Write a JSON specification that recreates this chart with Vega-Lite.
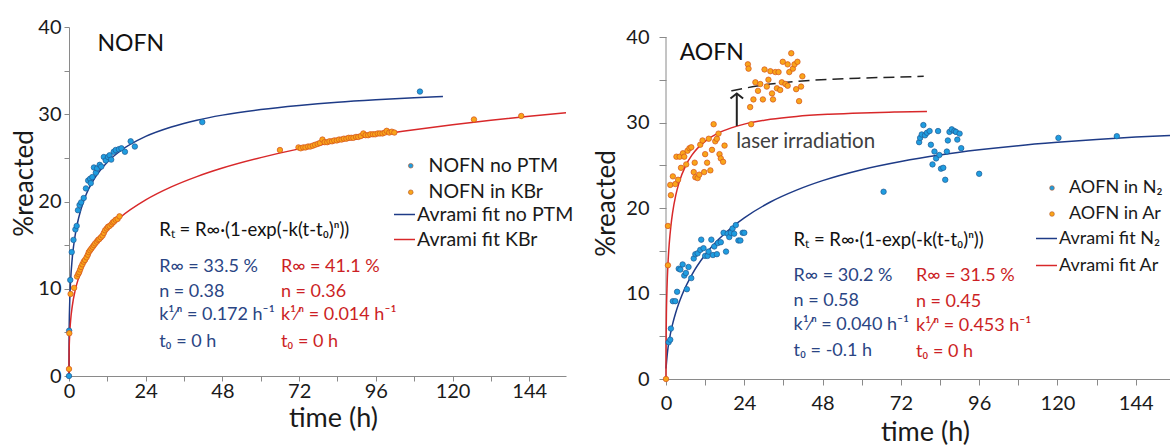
{
  "$schema": "https://vega.github.io/schema/vega-lite/v6.json",
  "padding": {"left": 11, "top": 17, "right": 0, "bottom": 0},
  "spacing": 19,
  "config": {
    "font": "Lato",
    "view": {"stroke": null},
    "axis": {"domainColor": "#8a8a8a", "tickColor": "#8a8a8a", "labelFont": "Lato", "labelFontSize": 20, "labelColor": "#1a1a1a", "titleFont": "Lato", "titleFontSize": 26, "titleFontWeight": "normal", "titleColor": "#1a1a1a", "grid": false, "labelFlush": false, "labelOverlap": false},
    "legend": {"title": null, "orient": "none", "labelFont": "Lato", "labelFontSize": 19.5, "labelColor": "#1a1a1a", "labelLimit": 300}
  },
  "resolve": {"scale": {"fill": "independent", "stroke": "independent", "x": "independent", "y": "independent"}, "legend": {"fill": "independent", "stroke": "independent"}},
  "datasets": {
    "ptsL": [
      {"t": 0, "r": 0, "s": "NOFN no PTM"}, {"t": 0.05, "r": 5.2, "s": "NOFN no PTM"}, {"t": 0.4, "r": 11.0, "s": "NOFN no PTM"}, {"t": 0.85, "r": 14.2, "s": "NOFN no PTM"}, {"t": 1.4, "r": 15.6, "s": "NOFN no PTM"}, {"t": 2.0, "r": 16.8, "s": "NOFN no PTM"}, {"t": 2.4, "r": 17.2, "s": "NOFN no PTM"}, {"t": 2.8, "r": 19.0, "s": "NOFN no PTM"}, {"t": 3.3, "r": 19.6, "s": "NOFN no PTM"}, {"t": 3.8, "r": 19.9, "s": "NOFN no PTM"}, {"t": 4.6, "r": 20.4, "s": "NOFN no PTM"}, {"t": 5.3, "r": 21.5, "s": "NOFN no PTM"}, {"t": 6.0, "r": 22.4, "s": "NOFN no PTM"}, {"t": 6.6, "r": 22.6, "s": "NOFN no PTM"}, {"t": 6.8, "r": 22.1, "s": "NOFN no PTM"}, {"t": 7.3, "r": 22.8, "s": "NOFN no PTM"}, {"t": 7.8, "r": 23.9, "s": "NOFN no PTM"}, {"t": 8.4, "r": 23.3, "s": "NOFN no PTM"}, {"t": 8.8, "r": 23.8, "s": "NOFN no PTM"}, {"t": 9.6, "r": 24.2, "s": "NOFN no PTM"}, {"t": 10.1, "r": 24.0, "s": "NOFN no PTM"}, {"t": 10.9, "r": 25.1, "s": "NOFN no PTM"}, {"t": 11.5, "r": 24.7, "s": "NOFN no PTM"}, {"t": 12.2, "r": 25.1, "s": "NOFN no PTM"}, {"t": 12.7, "r": 25.3, "s": "NOFN no PTM"}, {"t": 13.2, "r": 24.8, "s": "NOFN no PTM"}, {"t": 14.0, "r": 25.7, "s": "NOFN no PTM"}, {"t": 14.6, "r": 25.9, "s": "NOFN no PTM"}, {"t": 15.6, "r": 26.0, "s": "NOFN no PTM"}, {"t": 16.4, "r": 26.1, "s": "NOFN no PTM"}, {"t": 17.5, "r": 25.7, "s": "NOFN no PTM"}, {"t": 19.3, "r": 26.9, "s": "NOFN no PTM"}, {"t": 20.6, "r": 26.3, "s": "NOFN no PTM"}, {"t": 41.7, "r": 29.1, "s": "NOFN no PTM"}, {"t": 109.8, "r": 32.6, "s": "NOFN no PTM"},
      {"t": 0, "r": 0.8, "s": "NOFN in KBr"}, {"t": 0.1, "r": 4.9, "s": "NOFN in KBr"}, {"t": 0.5, "r": 9.4, "s": "NOFN in KBr"}, {"t": 1.6, "r": 10.1, "s": "NOFN in KBr"}, {"t": 2.5, "r": 11.4, "s": "NOFN in KBr"}, {"t": 2.9, "r": 11.7, "s": "NOFN in KBr"}, {"t": 3.2, "r": 11.9, "s": "NOFN in KBr"}, {"t": 3.5, "r": 12.2, "s": "NOFN in KBr"}, {"t": 3.8, "r": 12.5, "s": "NOFN in KBr"}, {"t": 4.2, "r": 12.8, "s": "NOFN in KBr"}, {"t": 4.6, "r": 13.1, "s": "NOFN in KBr"}, {"t": 5.0, "r": 13.3, "s": "NOFN in KBr"}, {"t": 5.5, "r": 13.6, "s": "NOFN in KBr"}, {"t": 5.9, "r": 13.9, "s": "NOFN in KBr"}, {"t": 6.2, "r": 14.2, "s": "NOFN in KBr"}, {"t": 6.6, "r": 14.4, "s": "NOFN in KBr"}, {"t": 7.0, "r": 14.6, "s": "NOFN in KBr"}, {"t": 7.4, "r": 14.8, "s": "NOFN in KBr"}, {"t": 7.8, "r": 15.0, "s": "NOFN in KBr"}, {"t": 8.2, "r": 15.2, "s": "NOFN in KBr"}, {"t": 8.7, "r": 15.4, "s": "NOFN in KBr"}, {"t": 9.1, "r": 15.6, "s": "NOFN in KBr"}, {"t": 9.5, "r": 15.7, "s": "NOFN in KBr"}, {"t": 10.0, "r": 15.9, "s": "NOFN in KBr"}, {"t": 10.5, "r": 16.1, "s": "NOFN in KBr"}, {"t": 10.9, "r": 16.4, "s": "NOFN in KBr"}, {"t": 11.3, "r": 16.7, "s": "NOFN in KBr"}, {"t": 11.8, "r": 16.9, "s": "NOFN in KBr"}, {"t": 12.2, "r": 17.1, "s": "NOFN in KBr"}, {"t": 12.7, "r": 17.2, "s": "NOFN in KBr"}, {"t": 13.3, "r": 17.4, "s": "NOFN in KBr"}, {"t": 13.7, "r": 17.6, "s": "NOFN in KBr"}, {"t": 14.1, "r": 17.7, "s": "NOFN in KBr"}, {"t": 14.6, "r": 17.9, "s": "NOFN in KBr"}, {"t": 15.2, "r": 18.0, "s": "NOFN in KBr"}, {"t": 15.8, "r": 18.3, "s": "NOFN in KBr"},
      {"t": 66.0, "r": 25.9, "s": "NOFN in KBr"}, {"t": 71.8, "r": 26.2, "s": "NOFN in KBr"}, {"t": 72.5, "r": 26.1, "s": "NOFN in KBr"}, {"t": 73.3, "r": 26.2, "s": "NOFN in KBr"}, {"t": 74.0, "r": 26.2, "s": "NOFN in KBr"}, {"t": 74.8, "r": 26.3, "s": "NOFN in KBr"}, {"t": 75.5, "r": 26.3, "s": "NOFN in KBr"}, {"t": 76.3, "r": 26.4, "s": "NOFN in KBr"}, {"t": 77.0, "r": 26.5, "s": "NOFN in KBr"}, {"t": 77.8, "r": 26.6, "s": "NOFN in KBr"}, {"t": 78.5, "r": 26.7, "s": "NOFN in KBr"}, {"t": 79.3, "r": 27.1, "s": "NOFN in KBr"}, {"t": 80.0, "r": 26.8, "s": "NOFN in KBr"}, {"t": 80.8, "r": 26.8, "s": "NOFN in KBr"}, {"t": 81.5, "r": 26.9, "s": "NOFN in KBr"}, {"t": 82.3, "r": 26.9, "s": "NOFN in KBr"}, {"t": 83.0, "r": 27.0, "s": "NOFN in KBr"}, {"t": 83.8, "r": 27.0, "s": "NOFN in KBr"}, {"t": 84.5, "r": 27.1, "s": "NOFN in KBr"}, {"t": 85.3, "r": 27.1, "s": "NOFN in KBr"}, {"t": 86.0, "r": 27.2, "s": "NOFN in KBr"}, {"t": 86.8, "r": 27.2, "s": "NOFN in KBr"}, {"t": 87.5, "r": 27.3, "s": "NOFN in KBr"}, {"t": 88.3, "r": 27.3, "s": "NOFN in KBr"}, {"t": 89.0, "r": 27.3, "s": "NOFN in KBr"}, {"t": 89.8, "r": 27.4, "s": "NOFN in KBr"}, {"t": 90.5, "r": 27.4, "s": "NOFN in KBr"}, {"t": 91.3, "r": 27.5, "s": "NOFN in KBr"}, {"t": 92.1, "r": 27.8, "s": "NOFN in KBr"}, {"t": 92.8, "r": 27.6, "s": "NOFN in KBr"}, {"t": 93.6, "r": 27.6, "s": "NOFN in KBr"}, {"t": 94.3, "r": 27.7, "s": "NOFN in KBr"}, {"t": 95.1, "r": 27.7, "s": "NOFN in KBr"}, {"t": 95.8, "r": 27.7, "s": "NOFN in KBr"}, {"t": 96.6, "r": 27.8, "s": "NOFN in KBr"}, {"t": 97.3, "r": 27.8, "s": "NOFN in KBr"}, {"t": 98.1, "r": 27.8, "s": "NOFN in KBr"}, {"t": 98.8, "r": 27.9, "s": "NOFN in KBr"}, {"t": 99.4, "r": 28.1, "s": "NOFN in KBr"}, {"t": 100.2, "r": 27.9, "s": "NOFN in KBr"}, {"t": 101.0, "r": 28.0, "s": "NOFN in KBr"}, {"t": 101.8, "r": 27.9, "s": "NOFN in KBr"}, {"t": 126.7, "r": 29.4, "s": "NOFN in KBr"}, {"t": 141.5, "r": 29.8, "s": "NOFN in KBr"}
    ],
    "fitL": [
      {"t": 0, "r": 0, "s": "Avrami fit no PTM"}, {"t": 0.01, "r": 2.85, "s": "Avrami fit no PTM"}, {"t": 0.05, "r": 5.07, "s": "Avrami fit no PTM"}, {"t": 0.2, "r": 8.12, "s": "Avrami fit no PTM"}, {"t": 0.5, "r": 10.89, "s": "Avrami fit no PTM"}, {"t": 1, "r": 13.42, "s": "Avrami fit no PTM"}, {"t": 2, "r": 16.29, "s": "Avrami fit no PTM"}, {"t": 3, "r": 18.10, "s": "Avrami fit no PTM"}, {"t": 5, "r": 20.47, "s": "Avrami fit no PTM"}, {"t": 8, "r": 22.66, "s": "Avrami fit no PTM"}, {"t": 12, "r": 24.52, "s": "Avrami fit no PTM"}, {"t": 16, "r": 25.78, "s": "Avrami fit no PTM"}, {"t": 24, "r": 27.46, "s": "Avrami fit no PTM"}, {"t": 32, "r": 28.54, "s": "Avrami fit no PTM"}, {"t": 40, "r": 29.32, "s": "Avrami fit no PTM"}, {"t": 48, "r": 29.90, "s": "Avrami fit no PTM"}, {"t": 60, "r": 30.54, "s": "Avrami fit no PTM"}, {"t": 72, "r": 31.01, "s": "Avrami fit no PTM"}, {"t": 84, "r": 31.38, "s": "Avrami fit no PTM"}, {"t": 96, "r": 31.66, "s": "Avrami fit no PTM"}, {"t": 108, "r": 31.89, "s": "Avrami fit no PTM"}, {"t": 117, "r": 32.03, "s": "Avrami fit no PTM"},
      {"t": 0, "r": 0, "s": "Avrami fit KBr"}, {"t": 0.01, "r": 1.65, "s": "Avrami fit KBr"}, {"t": 0.05, "r": 2.90, "s": "Avrami fit KBr"}, {"t": 0.2, "r": 4.67, "s": "Avrami fit KBr"}, {"t": 0.5, "r": 6.34, "s": "Avrami fit KBr"}, {"t": 1, "r": 7.95, "s": "Avrami fit KBr"}, {"t": 2, "r": 9.92, "s": "Avrami fit KBr"}, {"t": 3, "r": 11.24, "s": "Avrami fit KBr"}, {"t": 5, "r": 13.11, "s": "Avrami fit KBr"}, {"t": 8, "r": 15.02, "s": "Avrami fit KBr"}, {"t": 12, "r": 16.81, "s": "Avrami fit KBr"}, {"t": 16, "r": 18.17, "s": "Avrami fit KBr"}, {"t": 24, "r": 20.18, "s": "Avrami fit KBr"}, {"t": 32, "r": 21.67, "s": "Avrami fit KBr"}, {"t": 40, "r": 22.85, "s": "Avrami fit KBr"}, {"t": 48, "r": 23.83, "s": "Avrami fit KBr"}, {"t": 60, "r": 25.03, "s": "Avrami fit KBr"}, {"t": 72, "r": 26.03, "s": "Avrami fit KBr"}, {"t": 84, "r": 26.86, "s": "Avrami fit KBr"}, {"t": 96, "r": 27.59, "s": "Avrami fit KBr"}, {"t": 108, "r": 28.22, "s": "Avrami fit KBr"}, {"t": 120, "r": 28.79, "s": "Avrami fit KBr"}, {"t": 132, "r": 29.30, "s": "Avrami fit KBr"}, {"t": 144, "r": 29.76, "s": "Avrami fit KBr"}, {"t": 155.5, "r": 30.17, "s": "Avrami fit KBr"}
    ],
    "annL": [
      {"t": 8.9, "r": 38.1, "label": "NOFN", "k": "title"},
      {"t": 28.2, "r": 16.7, "label": "Rₜ = R∞·(1-exp(-k(t-t₀)ⁿ))", "k": "eq"},
      {"t": 28.2, "r": 12.5, "label": "R∞ = 33.5 %", "k": "blue"},
      {"t": 28.2, "r": 9.6, "label": "n = 0.38", "k": "blue"},
      {"t": 28.2, "r": 7.0, "label": "k¹⁄ⁿ = 0.172 h⁻¹", "k": "blue"},
      {"t": 28.2, "r": 3.9, "label": "t₀ = 0 h", "k": "blue"},
      {"t": 66.3, "r": 12.5, "label": "R∞ = 41.1 %", "k": "red"},
      {"t": 66.3, "r": 9.6, "label": "n = 0.36", "k": "red"},
      {"t": 66.3, "r": 7.0, "label": "k¹⁄ⁿ = 0.014 h⁻¹", "k": "red"},
      {"t": 66.3, "r": 3.9, "label": "t₀ = 0 h", "k": "red"}
    ],
    "ptsR": [
      {"t": 0.8, "r": 4.3, "s": "AOFN in N₂"}, {"t": 1.3, "r": 4.6, "s": "AOFN in N₂"}, {"t": 1.5, "r": 5.9, "s": "AOFN in N₂"}, {"t": 2.1, "r": 9.1, "s": "AOFN in N₂"}, {"t": 2.85, "r": 9.1, "s": "AOFN in N₂"}, {"t": 3.4, "r": 10.2, "s": "AOFN in N₂"}, {"t": 3.9, "r": 12.9, "s": "AOFN in N₂"}, {"t": 4.4, "r": 12.8, "s": "AOFN in N₂"}, {"t": 5.1, "r": 13.4, "s": "AOFN in N₂"}, {"t": 5.6, "r": 12.1, "s": "AOFN in N₂"}, {"t": 6.1, "r": 12.4, "s": "AOFN in N₂"}, {"t": 6.4, "r": 10.5, "s": "AOFN in N₂"}, {"t": 6.9, "r": 13.1, "s": "AOFN in N₂"}, {"t": 7.75, "r": 11.8, "s": "AOFN in N₂"}, {"t": 8.5, "r": 14.1, "s": "AOFN in N₂"}, {"t": 9.0, "r": 14.6, "s": "AOFN in N₂"}, {"t": 9.7, "r": 14.7, "s": "AOFN in N₂"}, {"t": 10.5, "r": 15.1, "s": "AOFN in N₂"}, {"t": 10.8, "r": 16.3, "s": "AOFN in N₂"}, {"t": 11.5, "r": 15.3, "s": "AOFN in N₂"}, {"t": 12.0, "r": 14.4, "s": "AOFN in N₂"}, {"t": 12.75, "r": 14.4, "s": "AOFN in N₂"}, {"t": 13.05, "r": 14.9, "s": "AOFN in N₂"}, {"t": 13.9, "r": 16.3, "s": "AOFN in N₂"}, {"t": 14.4, "r": 14.5, "s": "AOFN in N₂"}, {"t": 14.8, "r": 15.5, "s": "AOFN in N₂"}, {"t": 15.6, "r": 14.6, "s": "AOFN in N₂"}, {"t": 15.9, "r": 15.9, "s": "AOFN in N₂"}, {"t": 16.8, "r": 16.0, "s": "AOFN in N₂"}, {"t": 17.65, "r": 17.1, "s": "AOFN in N₂"}, {"t": 18.4, "r": 14.9, "s": "AOFN in N₂"}, {"t": 18.9, "r": 17.0, "s": "AOFN in N₂"}, {"t": 19.4, "r": 16.6, "s": "AOFN in N₂"}, {"t": 19.9, "r": 17.1, "s": "AOFN in N₂"}, {"t": 20.4, "r": 17.6, "s": "AOFN in N₂"}, {"t": 20.9, "r": 17.0, "s": "AOFN in N₂"}, {"t": 21.4, "r": 18.0, "s": "AOFN in N₂"}, {"t": 22.2, "r": 16.2, "s": "AOFN in N₂"}, {"t": 22.8, "r": 16.2, "s": "AOFN in N₂"}, {"t": 23.5, "r": 17.1, "s": "AOFN in N₂"}, {"t": 24.0, "r": 17.1, "s": "AOFN in N₂"},
      {"t": 66.7, "r": 21.9, "s": "AOFN in N₂"}, {"t": 77.6, "r": 27.7, "s": "AOFN in N₂"}, {"t": 77.9, "r": 28.2, "s": "AOFN in N₂"}, {"t": 78.4, "r": 28.6, "s": "AOFN in N₂"}, {"t": 78.9, "r": 29.7, "s": "AOFN in N₂"}, {"t": 79.4, "r": 28.5, "s": "AOFN in N₂"}, {"t": 80.0, "r": 28.8, "s": "AOFN in N₂"}, {"t": 80.8, "r": 29.0, "s": "AOFN in N₂"}, {"t": 81.2, "r": 27.4, "s": "AOFN in N₂"}, {"t": 81.7, "r": 25.1, "s": "AOFN in N₂"}, {"t": 82.3, "r": 26.6, "s": "AOFN in N₂"}, {"t": 82.8, "r": 25.8, "s": "AOFN in N₂"}, {"t": 83.4, "r": 29.0, "s": "AOFN in N₂"}, {"t": 83.8, "r": 26.2, "s": "AOFN in N₂"}, {"t": 84.3, "r": 24.6, "s": "AOFN in N₂"}, {"t": 85.0, "r": 24.7, "s": "AOFN in N₂"}, {"t": 85.6, "r": 23.3, "s": "AOFN in N₂"}, {"t": 86.1, "r": 26.6, "s": "AOFN in N₂"}, {"t": 86.4, "r": 27.9, "s": "AOFN in N₂"}, {"t": 86.9, "r": 28.9, "s": "AOFN in N₂"}, {"t": 87.6, "r": 29.2, "s": "AOFN in N₂"}, {"t": 88.4, "r": 29.0, "s": "AOFN in N₂"}, {"t": 88.9, "r": 28.9, "s": "AOFN in N₂"}, {"t": 89.3, "r": 28.0, "s": "AOFN in N₂"}, {"t": 90.0, "r": 28.7, "s": "AOFN in N₂"}, {"t": 90.5, "r": 27.0, "s": "AOFN in N₂"}, {"t": 96.0, "r": 24.0, "s": "AOFN in N₂"}, {"t": 120.3, "r": 28.2, "s": "AOFN in N₂"}, {"t": 138.2, "r": 28.4, "s": "AOFN in N₂"},
      {"t": 0, "r": 0, "s": "AOFN in Ar"}, {"t": 0.6, "r": 17.9, "s": "AOFN in Ar"}, {"t": 0.6, "r": 13.3, "s": "AOFN in Ar"}, {"t": 1.3, "r": 22.7, "s": "AOFN in Ar"}, {"t": 1.5, "r": 21.5, "s": "AOFN in Ar"}, {"t": 2.1, "r": 23.7, "s": "AOFN in Ar"}, {"t": 2.85, "r": 22.8, "s": "AOFN in Ar"}, {"t": 3.2, "r": 26.0, "s": "AOFN in Ar"}, {"t": 3.7, "r": 23.3, "s": "AOFN in Ar"}, {"t": 4.2, "r": 26.0, "s": "AOFN in Ar"}, {"t": 4.6, "r": 24.7, "s": "AOFN in Ar"}, {"t": 5.2, "r": 26.4, "s": "AOFN in Ar"}, {"t": 5.6, "r": 26.0, "s": "AOFN in Ar"}, {"t": 6.2, "r": 25.1, "s": "AOFN in Ar"}, {"t": 6.6, "r": 26.7, "s": "AOFN in Ar"}, {"t": 7.2, "r": 27.0, "s": "AOFN in Ar"}, {"t": 7.75, "r": 27.1, "s": "AOFN in Ar"}, {"t": 8.5, "r": 24.2, "s": "AOFN in Ar"}, {"t": 8.8, "r": 25.3, "s": "AOFN in Ar"}, {"t": 9.0, "r": 23.6, "s": "AOFN in Ar"}, {"t": 9.7, "r": 23.5, "s": "AOFN in Ar"}, {"t": 10.2, "r": 23.9, "s": "AOFN in Ar"}, {"t": 10.5, "r": 27.4, "s": "AOFN in Ar"}, {"t": 11.2, "r": 27.9, "s": "AOFN in Ar"}, {"t": 11.7, "r": 24.2, "s": "AOFN in Ar"}, {"t": 12.0, "r": 26.3, "s": "AOFN in Ar"}, {"t": 12.6, "r": 25.3, "s": "AOFN in Ar"}, {"t": 13.1, "r": 28.1, "s": "AOFN in Ar"}, {"t": 13.6, "r": 24.4, "s": "AOFN in Ar"}, {"t": 14.1, "r": 26.8, "s": "AOFN in Ar"}, {"t": 14.6, "r": 29.8, "s": "AOFN in Ar"}, {"t": 15.1, "r": 27.8, "s": "AOFN in Ar"}, {"t": 15.6, "r": 28.1, "s": "AOFN in Ar"}, {"t": 16.1, "r": 28.7, "s": "AOFN in Ar"}, {"t": 16.4, "r": 26.3, "s": "AOFN in Ar"}, {"t": 16.8, "r": 25.8, "s": "AOFN in Ar"}, {"t": 17.5, "r": 25.4, "s": "AOFN in Ar"}, {"t": 17.95, "r": 27.3, "s": "AOFN in Ar"},
      {"t": 25.1, "r": 36.8, "s": "AOFN in Ar"}, {"t": 25.3, "r": 36.3, "s": "AOFN in Ar"}, {"t": 25.8, "r": 31.8, "s": "AOFN in Ar"}, {"t": 26.1, "r": 29.8, "s": "AOFN in Ar"}, {"t": 26.8, "r": 32.7, "s": "AOFN in Ar"}, {"t": 27.4, "r": 34.7, "s": "AOFN in Ar"}, {"t": 28.2, "r": 33.7, "s": "AOFN in Ar"}, {"t": 28.9, "r": 34.5, "s": "AOFN in Ar"}, {"t": 29.7, "r": 32.7, "s": "AOFN in Ar"}, {"t": 30.2, "r": 36.2, "s": "AOFN in Ar"}, {"t": 30.9, "r": 34.2, "s": "AOFN in Ar"}, {"t": 31.4, "r": 35.0, "s": "AOFN in Ar"}, {"t": 32.0, "r": 36.0, "s": "AOFN in Ar"}, {"t": 32.5, "r": 33.4, "s": "AOFN in Ar"}, {"t": 32.8, "r": 32.7, "s": "AOFN in Ar"}, {"t": 33.5, "r": 35.9, "s": "AOFN in Ar"}, {"t": 34.0, "r": 34.0, "s": "AOFN in Ar"}, {"t": 34.5, "r": 35.9, "s": "AOFN in Ar"}, {"t": 35.0, "r": 33.8, "s": "AOFN in Ar"}, {"t": 35.5, "r": 34.7, "s": "AOFN in Ar"}, {"t": 35.8, "r": 37.1, "s": "AOFN in Ar"}, {"t": 36.6, "r": 34.5, "s": "AOFN in Ar"}, {"t": 37.3, "r": 34.3, "s": "AOFN in Ar"}, {"t": 37.3, "r": 36.8, "s": "AOFN in Ar"}, {"t": 37.8, "r": 35.9, "s": "AOFN in Ar"}, {"t": 38.4, "r": 38.1, "s": "AOFN in Ar"}, {"t": 38.9, "r": 36.3, "s": "AOFN in Ar"}, {"t": 39.4, "r": 36.8, "s": "AOFN in Ar"}, {"t": 39.9, "r": 33.9, "s": "AOFN in Ar"}, {"t": 40.3, "r": 37.1, "s": "AOFN in Ar"}, {"t": 40.8, "r": 32.5, "s": "AOFN in Ar"}, {"t": 41.4, "r": 34.2, "s": "AOFN in Ar"}, {"t": 41.8, "r": 35.4, "s": "AOFN in Ar"}
    ],
    "fitR": [
      {"t": 0, "r": 1.23, "s": "Avrami fit N₂"}, {"t": 0.5, "r": 3.28, "s": "Avrami fit N₂"}, {"t": 1, "r": 4.55, "s": "Avrami fit N₂"}, {"t": 2, "r": 6.39, "s": "Avrami fit N₂"}, {"t": 3, "r": 7.78, "s": "Avrami fit N₂"}, {"t": 5, "r": 9.91, "s": "Avrami fit N₂"}, {"t": 8, "r": 12.25, "s": "Avrami fit N₂"}, {"t": 12, "r": 14.54, "s": "Avrami fit N₂"}, {"t": 16, "r": 16.28, "s": "Avrami fit N₂"}, {"t": 20, "r": 17.69, "s": "Avrami fit N₂"}, {"t": 24, "r": 18.85, "s": "Avrami fit N₂"}, {"t": 32, "r": 20.70, "s": "Avrami fit N₂"}, {"t": 40, "r": 22.09, "s": "Avrami fit N₂"}, {"t": 48, "r": 23.20, "s": "Avrami fit N₂"}, {"t": 60, "r": 24.48, "s": "Avrami fit N₂"}, {"t": 72, "r": 25.44, "s": "Avrami fit N₂"}, {"t": 84, "r": 26.20, "s": "Avrami fit N₂"}, {"t": 96, "r": 26.80, "s": "Avrami fit N₂"}, {"t": 108, "r": 27.29, "s": "Avrami fit N₂"}, {"t": 120, "r": 27.68, "s": "Avrami fit N₂"}, {"t": 132, "r": 28.02, "s": "Avrami fit N₂"}, {"t": 144, "r": 28.29, "s": "Avrami fit N₂"}, {"t": 154.5, "r": 28.49, "s": "Avrami fit N₂"},
      {"t": 0, "r": 0, "s": "Avrami fit Ar"}, {"t": 0.02, "r": 3.57, "s": "Avrami fit Ar"}, {"t": 0.1, "r": 6.93, "s": "Avrami fit Ar"}, {"t": 0.3, "r": 10.54, "s": "Avrami fit Ar"}, {"t": 0.6, "r": 13.44, "s": "Avrami fit Ar"}, {"t": 1, "r": 15.86, "s": "Avrami fit Ar"}, {"t": 1.5, "r": 17.9, "s": "Avrami fit Ar"}, {"t": 2, "r": 19.39, "s": "Avrami fit Ar"}, {"t": 3, "r": 21.5, "s": "Avrami fit Ar"}, {"t": 4, "r": 22.97, "s": "Avrami fit Ar"}, {"t": 6, "r": 24.93, "s": "Avrami fit Ar"}, {"t": 8, "r": 26.21, "s": "Avrami fit Ar"}, {"t": 12, "r": 27.8, "s": "Avrami fit Ar"}, {"t": 16, "r": 28.75, "s": "Avrami fit Ar"}, {"t": 20, "r": 29.37, "s": "Avrami fit Ar"}, {"t": 24, "r": 29.81, "s": "Avrami fit Ar"}, {"t": 32, "r": 30.37, "s": "Avrami fit Ar"}, {"t": 40, "r": 30.71, "s": "Avrami fit Ar"}, {"t": 50, "r": 30.96, "s": "Avrami fit Ar"}, {"t": 60, "r": 31.12, "s": "Avrami fit Ar"}, {"t": 70, "r": 31.22, "s": "Avrami fit Ar"}, {"t": 80, "r": 31.3, "s": "Avrami fit Ar"}
    ],
    "dashR": [
      {"t": 20, "r": 33.7}, {"t": 24, "r": 34.0}, {"t": 32, "r": 34.5}, {"t": 40, "r": 34.8}, {"t": 50, "r": 35.05}, {"t": 60, "r": 35.2}, {"t": 70, "r": 35.3}, {"t": 79, "r": 35.4}
    ],
    "arrowR": [{"t": 21.7, "r1": 29.6, "r2": 33.4}],
    "axisR": [{"t": 0, "r1": 0, "r2": 40}],
    "annR": [
      {"t": 4.2, "r": 38.1, "label": "AOFN", "k": "title"},
      {"t": 21.5, "r": 27.7, "label": "laser irradiation", "k": "grey"},
      {"t": 39.1, "r": 16.2, "label": "Rₜ = R∞·(1-exp(-k(t-t₀)ⁿ))", "k": "eq"},
      {"t": 39.1, "r": 12.0, "label": "R∞ = 30.2 %", "k": "blue"},
      {"t": 39.1, "r": 9.15, "label": "n = 0.58", "k": "blue"},
      {"t": 39.1, "r": 6.3, "label": "k¹⁄ⁿ = 0.040 h⁻¹", "k": "blue"},
      {"t": 39.1, "r": 3.3, "label": "t₀ = -0.1 h", "k": "blue"},
      {"t": 76.6, "r": 12.0, "label": "R∞ = 31.5 %", "k": "red"},
      {"t": 76.6, "r": 9.0, "label": "n = 0.45", "k": "red"},
      {"t": 76.6, "r": 6.2, "label": "k¹⁄ⁿ = 0.453 h⁻¹", "k": "red"},
      {"t": 76.6, "r": 3.2, "label": "t₀ = 0 h", "k": "red"}
    ]
  },
  "hconcat": [
    {
      "width": 497,
      "height": 349,
      "resolve": {"scale": {"stroke": "independent"}, "legend": {"stroke": "independent"}},
      "encoding": {
        "x": {"field": "t", "type": "quantitative", "scale": {"domain": [0, 155.5], "nice": false, "zero": false}, "axis": {"title": "time (h)", "titleFontSize": 27, "titleX": 264, "values": [0, 12, 24, 36, 48, 60, 72, 84, 96, 108, 120, 132, 144], "labelExpr": "datum.value % 24 == 0 ? datum.label : ''", "tickSize": 5, "labelPadding": 0, "titlePadding": 4}},
        "y": {"field": "r", "type": "quantitative", "scale": {"domain": [0, 40], "nice": false}, "axis": {"title": "%reacted", "titleY": 156, "values": [0, 5, 10, 15, 20, 25, 30, 35, 40], "labelExpr": "datum.value % 10 == 0 ? datum.label : ''", "tickSize": 5, "labelPadding": 3, "titlePadding": 0}}
      },
      "layer": [
        {
          "data": {"name": "fitL"},
          "mark": {"type": "line", "strokeWidth": 1.5, "interpolate": "monotone"},
          "encoding": {
            "stroke": {"field": "s", "type": "nominal", "sort": null, "scale": {"domain": ["Avrami fit no PTM", "Avrami fit KBr"], "range": ["#1e3b87", "#d8282a"]},
              "legend": {"legendX": 324, "legendY": 176, "symbolType": "stroke", "symbolSize": 440, "symbolStrokeWidth": 1.5, "rowPadding": 4, "labelOffset": 1}}
          }
        },
        {
          "data": {"name": "ptsL"},
          "mark": {"type": "point", "filled": true, "size": 30, "strokeWidth": 0.7, "opacity": 1},
          "encoding": {
            "fill": {"field": "s", "type": "nominal", "sort": null, "scale": {"domain": ["NOFN no PTM", "NOFN in KBr"], "range": ["#1f9de0", "#f9a51a"]},
              "legend": {"legendX": 332, "legendY": 129, "symbolType": "circle", "symbolSize": 22, "symbolStrokeWidth": 0.6, "symbolStrokeColor": "#b05020", "rowPadding": 5.5, "labelOffset": 8}},
            "stroke": {"field": "s", "type": "nominal", "scale": {"domain": ["NOFN no PTM", "NOFN in KBr"], "range": ["#1f5a94", "#d4501c"]}, "legend": null}
          }
        },
        {
          "data": {"name": "annL"},
          "transform": [{"filter": "datum.k == 'title'"}],
          "mark": {"type": "text", "align": "left", "baseline": "middle", "fontSize": 23, "color": "#111"},
          "encoding": {"text": {"field": "label"}}
        },
        {
          "data": {"name": "annL"},
          "transform": [{"filter": "datum.k == 'eq'"}],
          "mark": {"type": "text", "align": "left", "baseline": "middle", "fontSize": 18.5, "color": "#111"},
          "encoding": {"text": {"field": "label"}}
        },
        {
          "data": {"name": "annL"},
          "transform": [{"filter": "datum.k == 'blue'"}],
          "mark": {"type": "text", "align": "left", "baseline": "middle", "fontSize": 18, "color": "#2a4584"},
          "encoding": {"text": {"field": "label"}}
        },
        {
          "data": {"name": "annL"},
          "transform": [{"filter": "datum.k == 'red'"}],
          "mark": {"type": "text", "align": "left", "baseline": "middle", "fontSize": 18, "color": "#cc1f25"},
          "encoding": {"text": {"field": "label"}}
        }
      ]
    },
    {
      "width": 504,
      "height": 352,
      "resolve": {"scale": {"stroke": "independent"}, "legend": {"stroke": "independent"}},
      "encoding": {
        "x": {"field": "t", "type": "quantitative", "scale": {"domain": [0, 154.5], "nice": false, "zero": false}, "axis": {"title": "time (h)", "titleFontSize": 27, "titleX": 259, "values": [0, 12, 24, 36, 48, 60, 72, 84, 96, 108, 120, 132, 144], "labelExpr": "datum.value % 24 == 0 ? datum.label : ''", "tickSize": 6, "labelPadding": 8, "titlePadding": 6}},
        "y": {"field": "r", "type": "quantitative", "scale": {"domain": [0, 41.17], "nice": false}, "axis": {"title": "%reacted", "domain": false, "values": [0, 5, 10, 15, 20, 25, 30, 35, 40], "labelExpr": "datum.value % 10 == 0 ? datum.label : ''", "tickSize": 7, "labelPadding": 10, "titlePadding": 6}}
      },
      "layer": [
        {
          "data": {"name": "axisR"},
          "mark": {"type": "rule", "strokeWidth": 1, "color": "#8a8a8a"},
          "encoding": {"y": {"field": "r1", "type": "quantitative"}, "y2": {"field": "r2"}}
        },
        {
          "data": {"name": "fitR"},
          "mark": {"type": "line", "strokeWidth": 1.5, "interpolate": "monotone"},
          "encoding": {
            "stroke": {"field": "s", "type": "nominal", "sort": null, "scale": {"domain": ["Avrami fit N₂", "Avrami fit Ar"], "range": ["#1e3b87", "#d8282a"]},
              "legend": {"legendX": 369, "legendY": 200, "labelFontSize": 18, "symbolType": "stroke", "symbolSize": 440, "symbolStrokeWidth": 1.5, "rowPadding": 6, "labelOffset": 1}}
          }
        },
        {
          "data": {"name": "dashR"},
          "mark": {"type": "line", "strokeWidth": 1.5, "strokeDash": [11, 6], "color": "#222", "interpolate": "monotone"},
          "encoding": {}
        },
        {
          "data": {"name": "arrowR"},
          "mark": {"type": "rule", "strokeWidth": 2, "color": "#222"},
          "encoding": {"y": {"field": "r1", "type": "quantitative"}, "y2": {"field": "r2"}}
        },
        {
          "data": {"name": "arrowR"},
          "mark": {"type": "point", "shape": "M-1,0.8L0,0L1,0.8", "filled": false, "size": 160, "strokeWidth": 2, "color": "#222", "opacity": 1},
          "encoding": {"y": {"field": "r2", "type": "quantitative"}}
        },
        {
          "data": {"name": "ptsR"},
          "mark": {"type": "point", "filled": true, "size": 30, "strokeWidth": 0.7, "opacity": 1},
          "encoding": {
            "fill": {"field": "s", "type": "nominal", "sort": null, "scale": {"domain": ["AOFN in N₂", "AOFN in Ar"], "range": ["#1f9de0", "#f9a51a"]},
              "legend": {"legendX": 377, "legendY": 152, "labelFontSize": 18, "symbolType": "circle", "symbolSize": 22, "symbolStrokeWidth": 0.6, "symbolStrokeColor": "#b05020", "rowPadding": 8, "labelOffset": 8}},
            "stroke": {"field": "s", "type": "nominal", "scale": {"domain": ["AOFN in N₂", "AOFN in Ar"], "range": ["#1f5a94", "#d4501c"]}, "legend": null}
          }
        },
        {
          "data": {"name": "annR"},
          "transform": [{"filter": "datum.k == 'title'"}],
          "mark": {"type": "text", "align": "left", "baseline": "middle", "fontSize": 23, "color": "#111"},
          "encoding": {"text": {"field": "label"}}
        },
        {
          "data": {"name": "annR"},
          "transform": [{"filter": "datum.k == 'grey'"}],
          "mark": {"type": "text", "align": "left", "baseline": "middle", "fontSize": 20.5, "color": "#404040"},
          "encoding": {"text": {"field": "label"}}
        },
        {
          "data": {"name": "annR"},
          "transform": [{"filter": "datum.k == 'eq'"}],
          "mark": {"type": "text", "align": "left", "baseline": "middle", "fontSize": 18.5, "color": "#111"},
          "encoding": {"text": {"field": "label"}}
        },
        {
          "data": {"name": "annR"},
          "transform": [{"filter": "datum.k == 'blue'"}],
          "mark": {"type": "text", "align": "left", "baseline": "middle", "fontSize": 18, "color": "#2a4584"},
          "encoding": {"text": {"field": "label"}}
        },
        {
          "data": {"name": "annR"},
          "transform": [{"filter": "datum.k == 'red'"}],
          "mark": {"type": "text", "align": "left", "baseline": "middle", "fontSize": 18, "color": "#cc1f25"},
          "encoding": {"text": {"field": "label"}}
        }
      ]
    }
  ]
}
